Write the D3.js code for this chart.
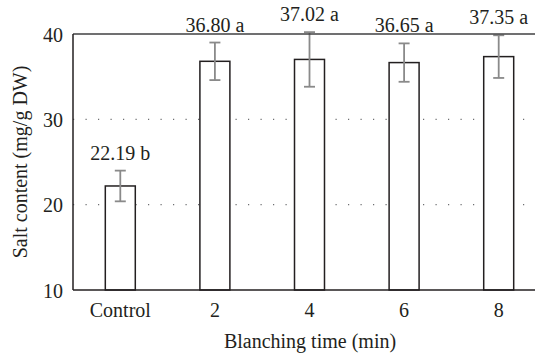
<!DOCTYPE html>
<html><head><meta charset="utf-8">
<script src="https://cdn.jsdelivr.net/npm/d3@7"></script>
<style>
html,body{margin:0;padding:0;background:#fff;}
</style></head>
<body><svg id="chart" width="535" height="356"></svg>
<script>
const categories = ["Control", "2", "4", "6", "8"];
const means = [22.19, 36.80, 37.02, 36.65, 37.35];
const errors = [1.8, 2.2, 3.2, 2.25, 2.5];
const letters = ["b", "a", "a", "a", "a"];
const yTicks = [10, 20, 30, 40];
const gridTicks = [20, 30];

(function () {
const FONT = '"Liberation Serif", "Times New Roman", serif';
const TXT = "#231f20";
const svg = d3.select("#chart");
const mLeft = 73, mRight = 546, mTop = 34, mBottom = 290;

const x = d3.scaleBand().domain(categories).range([mLeft, mRight]).paddingInner(0.683).paddingOuter(0.3415);
const y = d3.scaleLinear().domain([10, 40]).range([mBottom, mTop]);

// gridlines
svg.append("g").selectAll("line").data(gridTicks).join("line")
  .attr("x1", mLeft).attr("x2", 535)
  .attr("y1", d => y(d)).attr("y2", d => y(d))
  .attr("stroke", "#6d6e71").attr("stroke-width", 1.1)
  .attr("stroke-dasharray", "1.2,11.3");

// bars
svg.append("g").selectAll("rect").data(means).join("rect")
  .attr("x", (d, i) => x(categories[i]))
  .attr("y", d => y(d))
  .attr("width", x.bandwidth())
  .attr("height", d => mBottom - y(d))
  .attr("fill", "#fff").attr("stroke", "#231f20").attr("stroke-width", 1.5);

// error bars
const eb = svg.append("g").attr("stroke", "#8a8a8a").attr("stroke-width", 1.8);
means.forEach((m, i) => {
  const cx = x(categories[i]) + x.bandwidth() / 2;
  const yt = y(m + errors[i]), yb = y(m - errors[i]);
  eb.append("line").attr("x1", cx).attr("x2", cx).attr("y1", yt).attr("y2", yb);
  eb.append("line").attr("x1", cx - 5.5).attr("x2", cx + 5.5).attr("y1", yt).attr("y2", yt);
  eb.append("line").attr("x1", cx - 5.5).attr("x2", cx + 5.5).attr("y1", yb).attr("y2", yb);
});

// frame lines
svg.append("line").attr("x1", mLeft).attr("x2", 535).attr("y1", mTop).attr("y2", mTop)
  .attr("stroke", "#414042").attr("stroke-width", 1.5);
svg.append("line").attr("x1", mLeft).attr("x2", 535).attr("y1", mBottom).attr("y2", mBottom)
  .attr("stroke", "#231f20").attr("stroke-width", 1.5);
svg.append("line").attr("x1", mLeft).attr("x2", mLeft).attr("y1", mTop).attr("y2", mBottom)
  .attr("stroke", "#231f20").attr("stroke-width", 1.5);

// y axis labels
const yAxis = d3.axisLeft(y).tickValues(yTicks).tickSize(0).tickPadding(10).tickFormat(d3.format("d"));
const ya = svg.append("g").attr("transform", `translate(${mLeft},0)`).call(yAxis)
  .attr("font-family", FONT).attr("font-size", 20);
ya.select(".domain").remove();
ya.selectAll("text").attr("font-family", FONT).attr("font-size", 20).attr("fill", TXT).attr("dy", "0.35em");

// x axis labels
const xAxis = d3.axisBottom(x).tickSize(0).tickPadding(13);
const xa = svg.append("g").attr("transform", `translate(0,${mBottom})`).call(xAxis)
  .attr("font-family", FONT).attr("font-size", 20);
xa.select(".domain").remove();
xa.selectAll("text").attr("font-family", FONT).attr("font-size", 20).attr("fill", TXT);

// value labels
svg.append("g").selectAll("text").data(means).join("text")
  .attr("x", (d, i) => x(categories[i]) + x.bandwidth() / 2)
  .attr("y", (d, i) => y(d + errors[i]) - 11)
  .attr("text-anchor", "middle").attr("font-size", 20).attr("font-family", FONT).attr("fill", TXT)
  .text((d, i) => d.toFixed(2) + " " + letters[i]);

// axis titles
svg.append("text").attr("x", 310).attr("y", 348).attr("text-anchor", "middle")
  .attr("font-size", 20).attr("font-family", FONT).attr("fill", TXT).text("Blanching time (min)");
svg.append("text").attr("transform", "translate(27,162) rotate(-90)")
  .attr("text-anchor", "middle").attr("font-size", 20).attr("font-family", FONT).attr("fill", TXT)
  .text("Salt content (mg/g DW)");
})();
</script></body></html>
